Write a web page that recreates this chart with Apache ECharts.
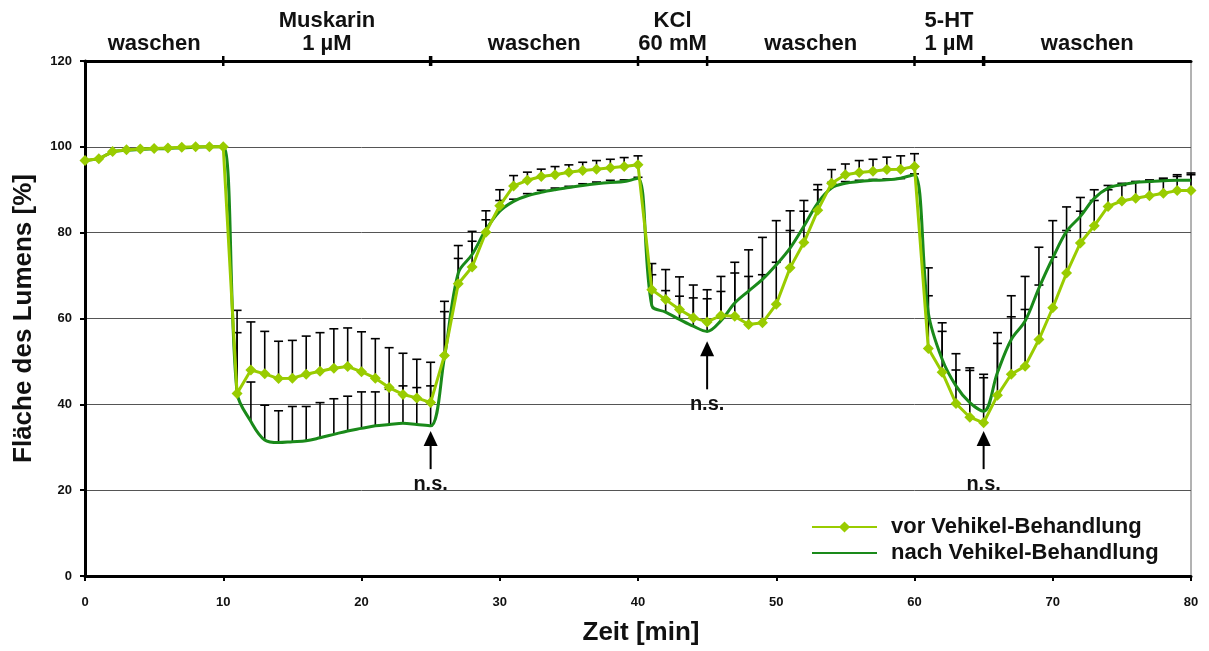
<!DOCTYPE html>
<html>
<head>
<meta charset="utf-8">
<script src="https://cdn.jsdelivr.net/npm/echarts@6/dist/echarts.min.js"></script>
<style>
	html, body { margin: 0; padding: 0; background: #fff; }
	#chart { width: 1209px; height: 651px; }
</style>
</head>
<body>
<div id="chart"></div>
<script>
'use strict';

// Zeit [min], 0..80
var zeit = [];
for (var i = 0; i <= 80; i++) zeit.push(i);

var vorWerte = [
	96.8, 97.2, 98.9, 99.3, 99.5, 99.6, 99.7, 99.9, 100, 100, 100,
	42.5, 48, 47.1, 46, 46.1, 47, 47.7, 48.4, 48.8, 47.6,
	46.1, 43.9, 42.3, 41.5, 40.4, 51.4, 68.1, 72, 80.1, 86.3,
	90.9, 92.2, 93.1, 93.5, 94.1, 94.5, 94.8, 95.1, 95.4, 95.8,
	66.7, 64.4, 62.1, 60.2, 59.2, 60.7, 60.5, 58.6, 59, 63.3,
	71.8, 77.7, 85.2, 91.5, 93.5, 94, 94.3, 94.7, 94.8, 95.4,
	53, 47.5, 40.2, 37, 35.7, 42.1, 47, 48.9, 55.1, 62.5,
	70.6, 77.6, 81.6, 86.1, 87.4, 88, 88.6, 89.2, 89.8, 89.8
];
var vorOben = [
	null, null, null, null, null, null, null, null, null, null, null,
	61.9, 59.2, 57, 54.7, 54.9, 55.9, 56.7, 57.6, 57.8, 56.9,
	55.3, 53.2, 51.9, 50.5, 49.8, 64, 74, 78, 83, 90,
	93.3, 94.1, 94.8, 95.4, 95.8, 96.4, 96.8, 97.1, 97.5, 97.9,
	72.8, 71.4, 69.7, 67.8, 66.7, 69.8, 70.6, 69.8, 70.2, 73.1,
	80.5, 85, 90, 94.7, 96, 96.8, 97.1, 97.6, 97.9, 98.4,
	65.3, 57, 48, 47.9, 46.2, 54.2, 60.4, 62.1, 67.8, 74.3,
	80.5, 85, 87.5, 90, 91, 91.9, 92.1, 92.4, 93.1, 93.5
];
var nachWerte = [
	96.8, 97.3, 98.8, 99.2, 99.4, 99.5, 99.6, 99.8, 99.9, 100, 100,
	42.7, 36, 31.7, 31.1, 31.3, 31.5, 32.2, 33, 33.8, 34.4,
	35, 35.3, 35.6, 35.3, 35, 51, 70.6, 74.9, 80.7, 85,
	87.3, 88.6, 89.4, 90, 90.5, 91, 91.4, 91.7, 91.9, 92.7,
	63, 61.5, 59.8, 58.2, 57, 59.5, 63.6, 66.4, 69.1, 72.5,
	76.4, 81.5, 86.9, 90.4, 91.5, 91.9, 92.2, 92.3, 92.7, 93.5,
	61.3, 50.5, 44.3, 40.4, 38.4, 47.4, 55.1, 59.4, 67.1, 74.1,
	80.3, 83.8, 88, 90.4, 91.2, 91.7, 91.9, 92.1, 92.2, 92.2
];
var nachOben = [
	null, null, null, null, null, null, null, null, null, null, null,
	56.7, 45.2, 39.8, 38.5, 39.5, 39.5, 40.4, 41.3, 41.9, 42.9,
	42.9, 43.5, 44.3, 43.9, 44.3, 61.6, 77, 80.3, 85.1, 87.5,
	87.8, 89.1, 89.9, 90.4, 90.8, 91.4, 91.8, 92.2, 92.3, 92.9,
	70.2, 66.5, 65.2, 64.8, 64.6, 66.3, 73.1, 76, 78.9, 82.8,
	85.1, 87.5, 91.2, 91.7, 91.9, 92.2, 92.4, 92.5, 92.6, 93.7,
	71.8, 59, 51.8, 48.5, 47, 56.7, 65.3, 69.8, 76.6, 82.8,
	86, 88.2, 90, 91, 91.5, 91.9, 92.3, 92.7, 93.5, 93.9
];

// Behandlungsphasen oben
var phasenStart = [0, 10, 25, 40, 45, 60, 65];
var phasenEnde = [10, 25, 40, 45, 60, 65, 80];
var phasenText = ['waschen', 'Muskarin\n1 µM', 'waschen', 'KCl\n60 mM', 'waschen', '5-HT\n1 µM', 'waschen'];

// n.s.-Pfeile
var nsZeit = [25, 45, 65];
var nsSpitze = [33.8, 54.7, 33.8];
var nsFuss = [24.9, 43.5, 24.9];

var yTicks = [0, 20, 40, 60, 80, 100, 120];

var hell = '#99cc00';
var dunkel = '#1a8a1a';
var fontFam = '"Liberation Sans", Arial, sans-serif';

function pairs(xs, ys) {
	return xs.map(function(x, k) { return [x, ys[k]]; });
}
function errData(vals, ups) {
	var out = [];
	for (var k = 0; k < vals.length; k++) {
		if (ups[k] != null) out.push([zeit[k], vals[k], ups[k]]);
	}
	return out;
}

function renderErr(params, api) {
	var p0 = api.coord([api.value(0), api.value(1)]);
	var p1 = api.coord([api.value(0), api.value(2)]);
	var st = { stroke: '#000', lineWidth: 1.6 };
	return {
		type: 'group',
		children: [
			{ type: 'line', shape: { x1: p0[0], y1: p0[1], x2: p1[0], y2: p1[1] }, style: st },
			{ type: 'line', shape: { x1: p1[0] - 4.5, y1: p1[1], x2: p1[0] + 4.5, y2: p1[1] }, style: st }
		]
	};
}

var chart = echarts.init(document.getElementById('chart'));

var option = {
	animation: false,
	backgroundColor: '#fff',
	grid: {
		left: 85, right: 18, top: 61, bottom: 74,
		show: true, borderColor: '#666', borderWidth: 1
	},
	legend: {
		orient: 'vertical',
		left: 806,
		top: 510,
		itemWidth: 65,
		itemHeight: 14,
		itemGap: 2,
		backgroundColor: '#fff',
		data: [
			{ name: 'vor Vehikel-Behandlung' },
			{ name: 'nach Vehikel-Behandlung', itemStyle: { opacity: 0 } }
		],
		textStyle: { fontFamily: fontFam, fontWeight: 'bold', fontSize: 22, lineHeight: 24, color: '#111', padding: [0, 0, 0, 9] }
	},
	xAxis: [{
		type: 'value',
		min: 0, max: 80, interval: 10,
		name: 'Zeit [min]',
		nameLocation: 'middle',
		nameGap: 44,
		nameTextStyle: { fontFamily: fontFam, fontWeight: 'bold', fontSize: 26, color: '#111', padding: [0, 0, 0, 6] },
		axisLine: { show: true, onZero: false, lineStyle: { color: '#000', width: 3 } },
		axisTick: { show: true, length: 5, lineStyle: { color: '#000', width: 2 } },
		axisLabel: { fontFamily: fontFam, fontWeight: 'bold', fontSize: 13, color: '#111', margin: 20 },
		splitLine: { show: false }
	}, {
		type: 'value',
		position: 'top',
		min: 0, max: 80,
		axisLine: { show: true, onZero: false, lineStyle: { color: '#000', width: 3 } },
		axisTick: { show: false },
		axisLabel: { show: false },
		splitLine: { show: false }
	}],
	yAxis: {
		type: 'value',
		min: 0, max: 120, interval: 20,
		name: 'Fläche des Lumens [%]',
		nameLocation: 'middle',
		nameGap: 48,
		nameTextStyle: { fontFamily: fontFam, fontWeight: 'bold', fontSize: 26, color: '#111' },
		axisLine: { show: true, lineStyle: { color: '#000', width: 3 } },
		axisTick: { show: true, length: 5, lineStyle: { color: '#000', width: 2 } },
		axisLabel: { fontFamily: fontFam, fontWeight: 'bold', fontSize: 13, color: '#111', margin: 13,
			formatter: function(v) { return yTicks.indexOf(v) >= 0 ? String(v) : ''; } },
		splitLine: { show: true, lineStyle: { color: '#555', width: 1 } }
	},
	series: [
		{
			name: 'err-nach',
			type: 'custom',
			renderItem: renderErr,
			data: errData(nachWerte, nachOben),
			z: 1,
			silent: true
		},
		{
			name: 'err-vor',
			type: 'custom',
			renderItem: renderErr,
			data: errData(vorWerte, vorOben),
			z: 1,
			silent: true
		},
		{
			name: 'nach Vehikel-Behandlung',
			type: 'line',
			data: pairs(zeit, nachWerte),
			smooth: 0.35,
			symbol: 'none',
			lineStyle: { color: dunkel, width: 3 },
			itemStyle: { color: dunkel },
			z: 3
		},
		{
			name: 'vor Vehikel-Behandlung',
			type: 'line',
			data: pairs(zeit, vorWerte),
			symbol: 'diamond',
			symbolSize: 11,
			lineStyle: { color: hell, width: 3 },
			itemStyle: { color: hell },
			z: 4
		},
		{
			name: 'phasen',
			type: 'custom',
			silent: true,
			data: phasenStart.map(function(s, k) { return [s, phasenEnde[k], k]; }),
			renderItem: function(params, api) {
				var a = api.coord([api.value(0), 120]);
				var b = api.coord([api.value(1), 120]);
				var k = api.value(2);
				var kids = [{
					type: 'text',
					style: {
						x: (a[0] + b[0]) / 2, y: a[1] - 6,
						text: phasenText[k],
						textAlign: 'center', textVerticalAlign: 'bottom',
						font: 'bold 22px ' + fontFam, fill: '#111', lineHeight: 23
					}
				}];
				if (api.value(0) > 0) {
					kids.push({ type: 'line', shape: { x1: a[0], y1: a[1] - 5, x2: a[0], y2: a[1] + 5 },
						style: { stroke: '#000', lineWidth: (api.value(0) === 25 || api.value(0) === 65) ? 3.5 : 2.5 } });
				}
				return { type: 'group', children: kids };
			},
			z: 5
		},
		{
			name: 'ns',
			type: 'custom',
			silent: true,
			data: nsZeit.map(function(x, k) { return [x, nsSpitze[k], nsFuss[k]]; }),
			renderItem: function(params, api) {
				var t = api.coord([api.value(0), api.value(1)]);
				var f = api.coord([api.value(0), api.value(2)]);
				return {
					type: 'group',
					children: [
						{ type: 'line', shape: { x1: f[0], y1: f[1], x2: t[0], y2: t[1] + 10 },
							style: { stroke: '#000', lineWidth: 2 } },
						{ type: 'polygon', shape: { points: [[t[0], t[1]], [t[0] - 7, t[1] + 15], [t[0] + 7, t[1] + 15]] },
							style: { fill: '#000' } },
						{ type: 'text', style: { x: f[0], y: f[1] + 15, text: 'n.s.', textAlign: 'center',
							textVerticalAlign: 'middle', font: 'bold 20px ' + fontFam, fill: '#111' } }
					]
				};
			},
			z: 6
		}
	]
};

chart.setOption(option);
</script>
</body>
</html>
